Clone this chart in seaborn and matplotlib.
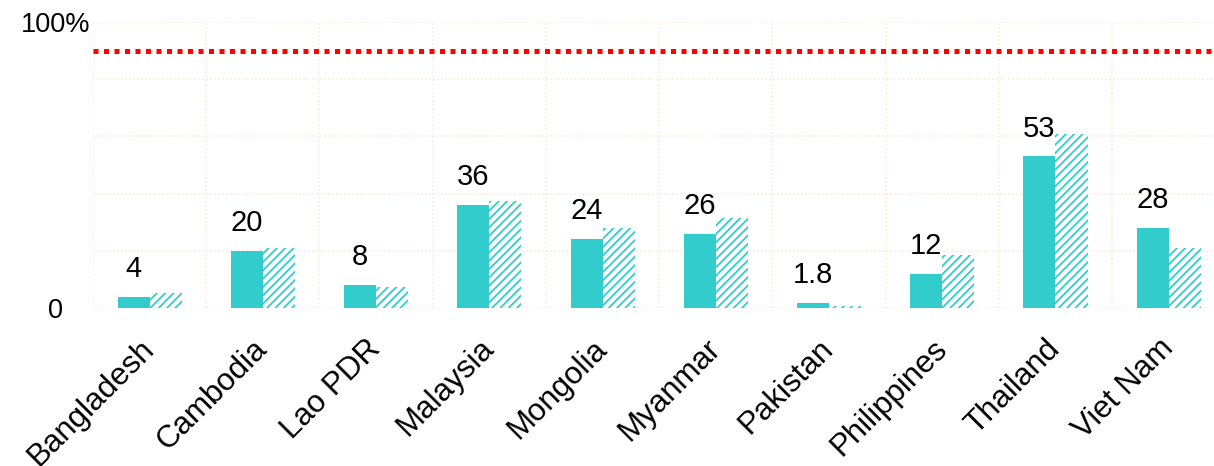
import numpy as np
import pandas as pd
import matplotlib
matplotlib.use("Agg")
import matplotlib.pyplot as plt
from matplotlib.ticker import FixedLocator
import seaborn as sns

# ───────────────────────────────────────────────
# Data (% of total)
# ───────────────────────────────────────────────
countries = ['Bangladesh', 'Cambodia', 'Lao PDR', 'Malaysia', 'Mongolia',
             'Myanmar', 'Pakistan', 'Philippines', 'Thailand', 'Viet Nam']
solid_vals   = [4, 20, 8, 36, 24, 26, 1.8, 12, 53, 28]
hatched_vals = [5.2, 21, 7.3, 37.4, 28, 31.5, 0.8, 18.5, 61, 21]
value_labels = ['4', '20', '8', '36', '24', '26', '1.8', '12', '53', '28']
target = 90
y_ticks = [0, 20, 40, 60, 80, 100]
y_tick_labels = ['0', '', '', '', '', '100%']

df = pd.DataFrame({
    'country': countries * 2,
    'series': ['solid'] * len(countries) + ['hatched'] * len(countries),
    'value': solid_vals + hatched_vals,
})

# ───────────────────────────────────────────────
# Styling
# ───────────────────────────────────────────────
sns.set_style('white')
plt.rcParams['font.family'] = ['Liberation Sans', 'DejaVu Sans']
plt.rcParams['text.color'] = 'black'
plt.rcParams['xtick.color'] = 'black'
plt.rcParams['ytick.color'] = 'black'
teal = '#33cccc'
grid_col = '#fce6da'
plt.rcParams['hatch.color'] = teal
plt.rcParams['hatch.linewidth'] = 1.3

fig = plt.figure(figsize=(12.14, 4.66), dpi=100)
ax = fig.add_axes([93 / 1214, 158 / 466, 1121 / 1214, 286 / 466])

sns.barplot(data=df, x='country', y='value', hue='series',
            palette=[teal, teal], width=0.566, dodge=True,
            legend=False, ax=ax, saturation=1)

# hatched second series
for bar in ax.containers[1]:
    bar.set_facecolor('white')
    bar.set_edgecolor(teal)
    bar.set_hatch('////')
    bar.set_linewidth(0)
for bar in ax.containers[0]:
    bar.set_linewidth(0)

# labels over the solid bars
for bar, lab in zip(ax.containers[0], value_labels):
    ax.annotate(lab, (bar.get_x() + bar.get_width() / 2, bar.get_height()),
                xytext=(0, 10), textcoords='offset points',
                ha='center', va='bottom', fontsize=21, color='black')

# target line
ax.axhline(target, color='red', linewidth=3.6, linestyle=(0, (1, 1.1)),
           dash_capstyle='butt', zorder=3)

ax.set_xlim(-0.5, 9.4)
ax.set_ylim(0, 100)
ax.set_xlabel('')
ax.set_ylabel('')

ax.set_yticks(y_ticks)
ax.set_yticklabels(y_tick_labels, fontsize=19.5, color='black')
for t in ax.get_yticklabels():
    t.set_horizontalalignment('center')
ax.tick_params(axis='y', length=0, pad=27)

ax.xaxis.set_minor_locator(FixedLocator(np.arange(len(countries)) - 0.5))
ax.set_xticks(range(len(countries)))
ax.set_xticklabels(countries, rotation=45, ha='right', va='center',
                   rotation_mode='anchor', fontsize=22.5, color='black')
ax.tick_params(axis='x', which='both', length=0, pad=26)

ax.grid(False)
ax.yaxis.grid(True, color=grid_col, linestyle=':', linewidth=1.1)
ax.xaxis.grid(True, which='minor', color=grid_col, linestyle=':', linewidth=1.1)
ax.set_axisbelow(True)
for s in ax.spines.values():
    s.set_visible(False)

fig.savefig('out.png', dpi=100)
